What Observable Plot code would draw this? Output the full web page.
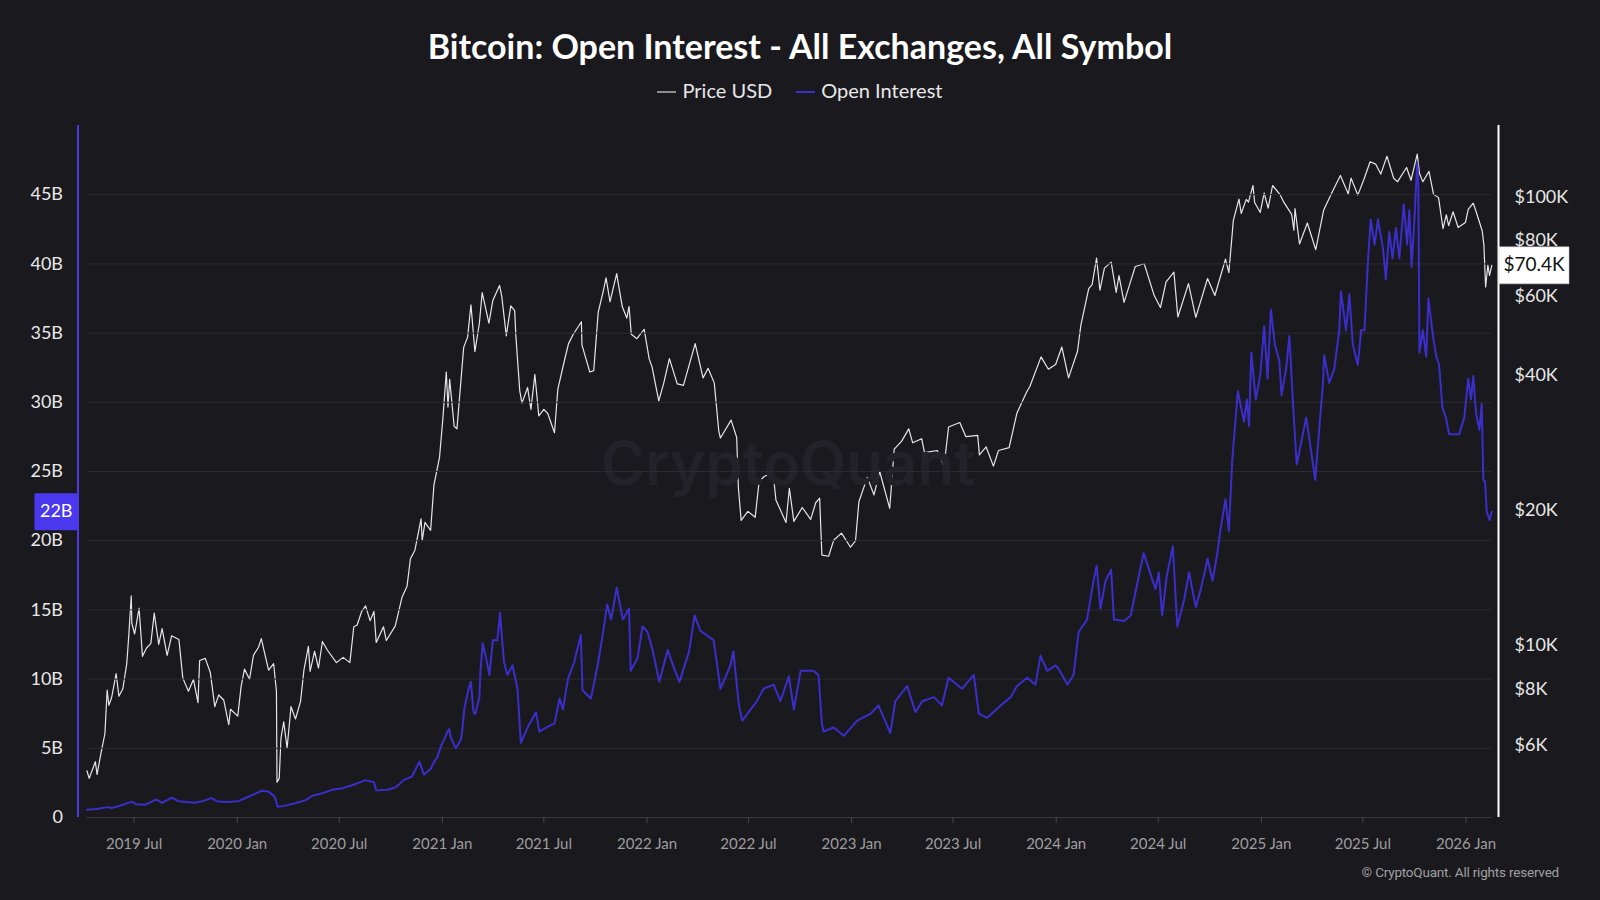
<!DOCTYPE html>
<html><head><meta charset="utf-8">
<script src="https://cdn.jsdelivr.net/npm/d3@7"></script>
<script src="https://cdn.jsdelivr.net/npm/@observablehq/plot@0.6"></script>
<style>
html,body{margin:0;padding:0;background:#1a191e;}
#root{position:relative;width:1600px;height:900px;overflow:hidden;background:#1a191e;font-family:Lato,"Noto Sans",sans-serif;}
#title{position:absolute;left:0;top:25px;width:1600px;text-align:center;color:#ffffff;font-weight:700;font-size:34px;line-height:42px;}
#legend{position:absolute;left:0;top:77px;width:1600px;text-align:center;color:#e8e8e8;font-size:20px;line-height:26px;}
#legend .item{display:inline-block;margin:0 12px;}
#legend .sw{display:inline-block;width:19px;height:2px;vertical-align:middle;margin-right:6px;position:relative;top:-1px;}
#chart{position:absolute;left:0;top:110px;width:1600px;height:750px;}
#chart svg{position:absolute;left:0;top:0;}
#credit{position:absolute;right:41px;top:863px;color:#a0a0a0;font-family:Roboto,sans-serif;font-size:13.5px;line-height:18px;letter-spacing:-0.2px;}
</style></head>
<body><div id="root">
<div id="title">Bitcoin: Open Interest - All Exchanges, All Symbol</div>
<div id="legend"><span class="item"><span class="sw" style="background:#8e8e8e"></span>Price USD</span><span class="item"><span class="sw" style="background:#3c2ecb"></span>Open Interest</span></div>
<div id="chart"></div>
<div id="credit">© CryptoQuant. All rights reserved</div>
</div>
<script>
// ---- Data ----
const priceDates = ["2019-04-08","2019-04-12","2019-04-17","2019-04-23","2019-04-26","2019-05-03","2019-05-10","2019-05-14","2019-05-17","2019-05-22","2019-05-30","2019-06-04","2019-06-11","2019-06-18","2019-06-22","2019-06-26","2019-06-27","2019-07-02","2019-07-10","2019-07-16","2019-07-23","2019-07-31","2019-08-06","2019-08-14","2019-08-20","2019-08-29","2019-09-06","2019-09-19","2019-09-26","2019-10-06","2019-10-15","2019-10-23","2019-10-26","2019-11-05","2019-11-14","2019-11-22","2019-11-29","2019-12-08","2019-12-17","2019-12-20","2020-01-02","2020-01-08","2020-01-14","2020-01-23","2020-01-30","2020-02-08","2020-02-13","2020-02-19","2020-02-26","2020-03-06","2020-03-11","2020-03-12","2020-03-16","2020-03-19","2020-03-24","2020-03-30","2020-04-06","2020-04-14","2020-04-23","2020-04-29","2020-05-07","2020-05-10","2020-05-18","2020-05-25","2020-06-01","2020-06-10","2020-06-26","2020-07-08","2020-07-20","2020-07-27","2020-08-02","2020-08-10","2020-08-17","2020-08-25","2020-09-01","2020-09-05","2020-09-18","2020-09-23","2020-10-09","2020-10-21","2020-10-30","2020-11-05","2020-11-13","2020-11-24","2020-11-26","2020-12-01","2020-12-11","2020-12-17","2020-12-27","2021-01-02","2021-01-08","2021-01-11","2021-01-14","2021-01-22","2021-01-27","2021-02-08","2021-02-15","2021-02-21","2021-02-28","2021-03-08","2021-03-13","2021-03-25","2021-04-01","2021-04-13","2021-04-17","2021-04-25","2021-05-03","2021-05-10","2021-05-12","2021-05-19","2021-05-23","2021-06-02","2021-06-08","2021-06-15","2021-06-22","2021-07-01","2021-07-08","2021-07-20","2021-07-26","2021-08-06","2021-08-14","2021-08-22","2021-09-06","2021-09-07","2021-09-21","2021-09-28","2021-10-06","2021-10-15","2021-10-20","2021-10-27","2021-11-08","2021-11-10","2021-11-18","2021-11-26","2021-11-30","2021-12-04","2021-12-14","2021-12-27","2022-01-05","2022-01-10","2022-01-22","2022-01-31","2022-02-10","2022-02-24","2022-03-07","2022-03-28","2022-04-11","2022-04-20","2022-05-01","2022-05-09","2022-05-12","2022-05-31","2022-06-10","2022-06-13","2022-06-18","2022-06-30","2022-07-13","2022-07-20","2022-07-29","2022-08-14","2022-08-19","2022-09-06","2022-09-12","2022-09-20","2022-10-05","2022-10-20","2022-10-29","2022-11-05","2022-11-09","2022-11-21","2022-11-30","2022-12-14","2022-12-30","2023-01-08","2023-01-14","2023-01-29","2023-02-10","2023-02-20","2023-03-10","2023-03-18","2023-03-31","2023-04-13","2023-04-20","2023-05-06","2023-05-11","2023-06-03","2023-06-15","2023-06-23","2023-07-13","2023-07-24","2023-08-14","2023-08-17","2023-08-29","2023-09-11","2023-09-20","2023-10-09","2023-10-23","2023-11-09","2023-11-15","2023-12-05","2023-12-18","2023-12-31","2024-01-11","2024-01-23","2024-02-08","2024-02-14","2024-02-28","2024-03-05","2024-03-13","2024-03-19","2024-03-27","2024-04-08","2024-04-17","2024-04-22","2024-05-01","2024-05-15","2024-05-21","2024-06-06","2024-06-24","2024-07-05","2024-07-15","2024-07-29","2024-08-05","2024-08-24","2024-09-06","2024-09-27","2024-10-10","2024-10-29","2024-11-04","2024-11-12","2024-11-22","2024-11-26","2024-12-05","2024-12-09","2024-12-17","2024-12-20","2024-12-30","2025-01-06","2025-01-13","2025-01-21","2025-02-03","2025-02-10","2025-02-24","2025-02-28","2025-03-02","2025-03-10","2025-03-24","2025-04-08","2025-04-22","2025-05-08","2025-05-22","2025-06-05","2025-06-10","2025-06-22","2025-07-03","2025-07-14","2025-07-24","2025-08-02","2025-08-13","2025-08-25","2025-09-01","2025-09-17","2025-09-25","2025-10-06","2025-10-10","2025-10-16","2025-10-27","2025-11-04","2025-11-13","2025-11-21","2025-11-27","2025-12-01","2025-12-09","2025-12-18","2025-12-31","2026-01-05","2026-01-14","2026-01-20","2026-01-30","2026-02-02","2026-02-05","2026-02-09","2026-02-12","2026-02-16"];
const priceValues = [5250,5050,5250,5500,5150,5750,6350,7950,7350,7650,8650,7700,8000,9100,10700,12900,11200,10600,12100,9450,9850,10100,11800,10050,10900,9500,10500,10300,8450,7900,8400,7450,9250,9350,8700,7300,7750,7550,6650,7200,6950,8100,8850,8400,9500,9900,10350,9600,8800,9100,7900,4950,5050,6200,6750,5900,7300,6850,7500,8800,9950,8750,9700,8900,10200,9750,9150,9400,9150,11000,11100,11900,12250,11350,11900,10150,11000,10250,11050,12800,13550,15600,16300,19150,17150,18800,18050,22800,26300,32200,40700,34000,39200,30800,30400,46200,48700,57500,45200,52300,61200,52300,58800,63500,60000,49000,57200,55800,49200,37000,34700,37600,33600,40200,32500,33600,32900,29800,37300,42800,47100,49300,52700,46800,40700,41000,55300,61700,66000,58400,67500,65000,56900,53700,57000,49400,48300,50700,43500,41800,35100,38500,43600,38300,38000,47100,39500,41500,38500,30100,29000,31800,29100,22500,19000,19900,19300,23200,23800,24300,21100,18800,22400,18900,20300,19100,20800,21300,15900,15800,17150,17800,16550,17100,20900,23700,21650,24450,20200,27400,28500,30400,28300,28900,26900,27200,25100,30700,31400,29200,29400,26600,27700,25100,27200,27600,33000,36700,37800,44000,41300,42300,46300,39500,45300,51800,62500,63800,73100,62000,69400,71600,61300,66800,58200,66200,70000,71000,60200,56700,64700,68000,54000,64100,53900,65800,60300,72700,67800,88700,98900,91900,98800,97400,106100,97200,92400,102100,94500,106100,101400,97400,91500,84300,94200,78600,87500,76300,93400,103000,111700,101600,110200,101000,109600,119900,118400,112500,123300,110100,108200,116400,109000,124700,113000,108200,114100,101500,99700,85000,91300,86300,92700,85500,87700,93800,96900,92000,84000,78000,63000,70500,66900,70400];

const oiDates = ["2019-04-08","2019-04-25","2019-05-15","2019-05-22","2019-06-10","2019-06-27","2019-07-05","2019-07-21","2019-08-10","2019-08-20","2019-09-06","2019-09-18","2019-10-18","2019-11-02","2019-11-16","2019-11-28","2019-12-15","2020-01-03","2020-01-21","2020-02-14","2020-02-26","2020-03-08","2020-03-13","2020-03-26","2020-04-15","2020-05-01","2020-05-13","2020-06-01","2020-06-18","2020-07-05","2020-07-24","2020-08-17","2020-09-01","2020-09-05","2020-09-25","2020-10-10","2020-10-24","2020-11-08","2020-11-21","2020-11-29","2020-12-11","2020-12-17","2020-12-23","2020-12-29","2021-01-07","2021-01-10","2021-01-13","2021-01-16","2021-01-25","2021-02-03","2021-02-06","2021-02-09","2021-02-12","2021-02-18","2021-02-21","2021-02-25","2021-02-27","2021-03-01","2021-03-08","2021-03-10","2021-03-14","2021-03-20","2021-03-26","2021-04-01","2021-04-09","2021-04-14","2021-04-17","2021-04-21","2021-04-27","2021-05-06","2021-05-15","2021-05-21","2021-06-02","2021-06-17","2021-06-23","2021-07-05","2021-07-20","2021-07-29","2021-08-04","2021-08-13","2021-08-24","2021-09-05","2021-09-08","2021-09-23","2021-10-05","2021-10-14","2021-10-22","2021-10-29","2021-11-08","2021-11-19","2021-11-30","2021-12-03","2021-12-15","2021-12-24","2022-01-02","2022-01-11","2022-01-23","2022-02-07","2022-02-19","2022-02-28","2022-03-17","2022-03-27","2022-04-06","2022-04-30","2022-05-12","2022-05-30","2022-06-04","2022-06-14","2022-06-20","2022-07-16","2022-07-28","2022-08-15","2022-08-27","2022-09-11","2022-09-20","2022-10-02","2022-10-25","2022-11-03","2022-11-09","2022-11-12","2022-11-30","2022-12-18","2023-01-11","2023-02-04","2023-02-18","2023-03-11","2023-03-20","2023-04-10","2023-04-25","2023-05-07","2023-05-28","2023-06-11","2023-06-23","2023-07-17","2023-08-07","2023-08-16","2023-08-31","2023-09-24","2023-10-12","2023-10-23","2023-11-10","2023-11-25","2023-12-04","2023-12-16","2023-12-31","2024-01-06","2024-01-21","2024-02-01","2024-02-10","2024-02-25","2024-03-05","2024-03-13","2024-03-20","2024-03-29","2024-04-08","2024-04-13","2024-05-01","2024-05-13","2024-05-21","2024-06-05","2024-06-14","2024-06-26","2024-07-02","2024-07-08","2024-07-16","2024-07-27","2024-08-04","2024-08-16","2024-08-25","2024-09-06","2024-09-15","2024-09-27","2024-10-06","2024-10-14","2024-10-20","2024-10-29","2024-11-04","2024-11-10","2024-11-20","2024-12-01","2024-12-06","2024-12-10","2024-12-14","2024-12-22","2024-12-30","2025-01-06","2025-01-12","2025-01-18","2025-01-25","2025-02-02","2025-02-06","2025-02-14","2025-02-20","2025-02-26","2025-03-05","2025-03-13","2025-03-22","2025-03-31","2025-04-07","2025-04-15","2025-04-21","2025-04-23","2025-05-02","2025-05-11","2025-05-20","2025-05-23","2025-06-01","2025-06-07","2025-06-13","2025-06-22","2025-06-28","2025-07-04","2025-07-10","2025-07-15","2025-07-22","2025-07-28","2025-08-06","2025-08-11","2025-08-17","2025-08-23","2025-08-29","2025-09-04","2025-09-12","2025-09-18","2025-09-22","2025-09-26","2025-10-01","2025-10-06","2025-10-08","2025-10-10","2025-10-16","2025-10-22","2025-10-26","2025-11-03","2025-11-09","2025-11-14","2025-11-20","2025-11-26","2025-12-02","2025-12-11","2025-12-20","2025-12-29","2026-01-05","2026-01-10","2026-01-14","2026-01-19","2026-01-25","2026-01-29","2026-02-01","2026-02-04","2026-02-07","2026-02-12","2026-02-16"];
const oiValues = [0.56,0.62,0.75,0.68,0.9,1.15,0.95,0.93,1.3,1.05,1.43,1.18,1.06,1.2,1.4,1.15,1.12,1.18,1.5,1.93,1.87,1.5,0.78,0.84,1.05,1.24,1.55,1.75,2.0,2.1,2.33,2.7,2.55,1.96,2.0,2.18,2.7,2.96,4.04,3.1,3.5,4.0,4.36,5.1,5.9,6.2,6.4,5.8,5.0,5.6,6.5,7.8,8.4,9.5,9.8,7.8,7.5,7.5,8.7,10.6,12.6,11.5,10.3,12.8,12.8,14.8,13.1,11.2,10.3,11.0,9.3,5.4,6.5,7.6,6.2,6.5,6.8,8.6,7.8,10.0,11.2,13.2,9.2,8.6,11.0,13.2,15.4,14.3,16.6,14.3,15.1,10.6,11.5,13.8,13.4,12.1,9.8,12.1,10.7,9.8,12.0,14.6,13.5,12.8,9.3,11.0,12.0,8.1,7.0,8.4,9.3,9.6,8.4,10.2,7.8,10.6,10.6,10.3,6.8,6.2,6.5,5.9,7.0,7.5,8.1,6.1,8.4,9.5,7.6,8.4,8.7,8.1,10.1,9.3,10.3,7.5,7.2,8.1,8.7,9.5,10.1,9.6,11.7,10.6,11.0,10.7,9.6,10.3,13.4,14.3,16.5,18.2,15.1,17.1,17.9,14.3,14.2,14.6,16.2,19.1,18.0,16.5,17.7,14.6,17.4,19.6,13.8,15.7,17.7,15.2,16.5,18.7,17.1,19.0,20.8,23.0,20.7,25.8,30.8,28.6,30.2,28.3,33.6,30.2,32.0,35.5,31.7,36.7,34.2,33.0,30.5,32.4,34.8,30.2,25.5,27.1,28.9,26.4,24.4,28.5,31.4,33.4,31.4,32.4,35.2,38.0,35.2,37.8,34.2,32.7,35.2,35.2,40.1,43.2,41.4,43.2,41.1,38.9,42.3,40.4,42.6,40.4,44.3,41.4,43.9,39.8,43.2,47.3,45.7,33.6,35.2,33.3,37.5,34.8,33.3,32.7,29.6,28.9,27.7,27.7,27.7,28.9,31.7,30.2,31.9,29.2,28.0,29.9,24.4,24.3,22.1,21.5,22.1];

const oiTicks = [0,5,10,15,20,25,30,35,40,45];
const priceTicks = [6000,8000,10000,20000,40000,60000,80000,100000];
const xTickDates = ["2019-07-01","2020-01-01","2020-07-01","2021-01-01","2021-07-01","2022-01-01","2022-07-01","2023-01-01","2023-07-01","2024-01-01","2024-07-01","2025-01-01","2025-07-01","2026-01-01"];
const xDomain = ["2019-03-23","2026-02-28"];
const oiDomain = [0, 50];
const priceDomain = [4130, 144400];

// ---- Build ----
const P = s => new Date(s + "T00:00:00Z");
const price = priceDates.map((d,i) => ({date: P(d), v: priceValues[i]}));
const oi = oiDates.map((d,i) => ({date: P(d), v: oiValues[i]}));
const xd = xDomain.map(P);
const firstDate = oi[0].date, lastDate = oi[oi.length-1].date;
const lastOI = oi[oi.length-1], lastPrice = price[price.length-1];
const fmtPrice = d => "$" + (d/1000) + "K";

const W = 1600, H = 750;
const common = {width: W, height: H, marginTop: 15, marginBottom: 43, marginLeft: 77.5, marginRight: 102,
  style: {background: "transparent", color: "#e8e8e8", fontFamily: "Lato, 'Noto Sans', sans-serif", overflow: "visible"}};
const boxSymbol = (w, h) => ({draw(ctx) { ctx.rect(-w/2, -h/2, w, h); }});

const plotA = Plot.plot({
  ...common,
  x: {type: "utc", domain: xd},
  y: {domain: oiDomain},
  marks: [
    Plot.text(["CryptoQuant"], {frameAnchor: "middle", dy: -6, fontSize: 60, fontWeight: 600, fill: "#232228", fontFamily: "Inter, Lato, sans-serif"}),
    Plot.ruleY(oiTicks.filter(t => t > 0), {x1: firstDate, x2: lastDate, stroke: "#2b2a30", strokeWidth: 1}),
    Plot.ruleY([0], {x1: firstDate, x2: lastDate, stroke: "#3a393f", strokeWidth: 1}),
    Plot.axisX({ticks: xTickDates.map(P), tickFormat: d3.utcFormat("%Y %b"), label: null, tickSize: 6, tickPadding: 15, fontSize: 15, color: "#9e9e9e", stroke: "#4a4950"}),
    Plot.axisY({ticks: oiTicks, tickFormat: d => d === 0 ? "0" : d + "B", label: null, tickSize: 0, tickPadding: 15, fontSize: 18, color: "#e8e8e8"}),
    Plot.ruleX([xd[0]], {stroke: "#4b39e6", strokeWidth: 2}),
    Plot.line(oi, {x: "date", y: "v", stroke: "#3c2ecb", strokeWidth: 2}),
    Plot.dot([lastOI], {y: "v", frameAnchor: "left", dx: -21.75, symbol: boxSymbol(43.5, 37), r: 5, fill: "#4a38ee", stroke: "none"}),
    Plot.text([lastOI], {y: "v", frameAnchor: "left", dx: -21.75, textAnchor: "middle", text: d => Math.round(d.v) + "B", fill: "#ffffff", fontSize: 18})
  ]
});

const plotB = Plot.plot({
  ...common,
  x: {type: "utc", domain: xd, axis: null},
  y: {type: "log", domain: priceDomain, axis: null},
  marks: [
    Plot.line(price, {x: "date", y: "v", stroke: "#e6e6e6", strokeWidth: 1.2}),
    Plot.ruleX([xd[1]], {stroke: "#ffffff", strokeWidth: 2}),
    Plot.text(priceTicks, {y: d => d, frameAnchor: "right", dx: 16, textAnchor: "start", text: fmtPrice, fill: "#e8e8e8", fontSize: 18}),
    Plot.dot([lastPrice], {y: "v", frameAnchor: "right", dx: 35.5, symbol: boxSymbol(70, 37), r: 5, fill: "#ffffff", stroke: "#c8c8c8", strokeWidth: 0.5}),
    Plot.text([lastPrice], {y: "v", frameAnchor: "right", dx: 35.5, textAnchor: "middle", text: d => "$" + (d.v/1000).toFixed(1) + "K", fill: "#111111", fontSize: 19})
  ]
});

const chart = document.getElementById("chart");
chart.appendChild(plotB);
chart.appendChild(plotA);
</script>
</body></html>
